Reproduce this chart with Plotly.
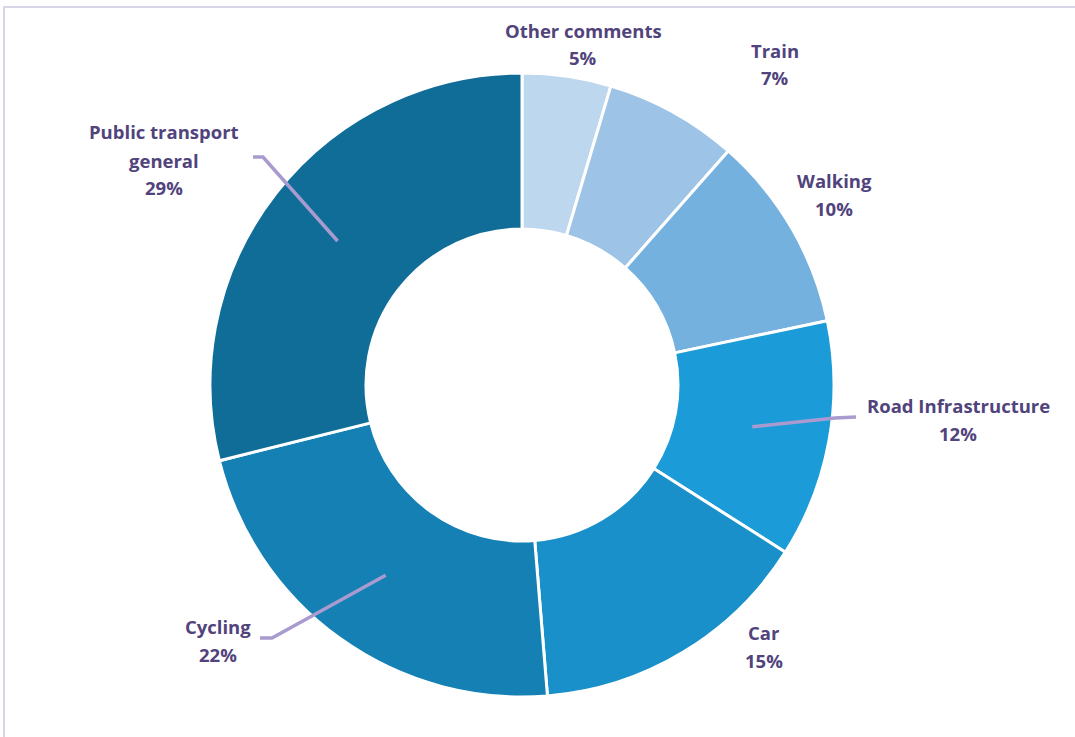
import math
import plotly.graph_objects as go

labels = ["Other comments", "Train", "Walking", "Road Infrastructure",
          "Car", "Cycling", "Public transport general"]
label_lines = [["Other comments"], ["Train"], ["Walking"], ["Road Infrastructure"],
               ["Car"], ["Cycling"], ["Public transport", "general"]]
values = [4.6, 6.9, 10.2, 12.3, 14.7, 22.4, 28.9]
colors = ["#BDD7EE", "#9DC3E6", "#75B1DF", "#1B9BD7", "#1990C9", "#1580B4", "#0F6D98"]

W, H = 1075, 737
CX, CY, R = 522, 385, 312   # pie centre / radius in px
HOLE = 0.5
LINE_H = 28

def px(x, y):
    return x / W, 1 - y / H

# centre of the first text line of each label (px)
label_pos = [(583, 30), (775, 50), (834, 180), (958, 405),
             (764, 632), (218, 626), (164, 132)]
# leader elbows for the labels that have one: (elbow point, end point)
leaders = {3: ((835, 418), (856, 417)),
           5: ((272, 638), (260, 638)),
           6: ((263, 157), (253, 157))}

x0, y1 = px(CX - R, CY - R)
x1, y0 = px(CX + R, CY + R)
fig = go.Figure(go.Pie(
    labels=labels, values=values, sort=False, direction="clockwise", rotation=0,
    hole=HOLE, textinfo="none", hoverinfo="label+percent",
    marker=dict(colors=colors, line=dict(color="white", width=3)),
    domain=dict(x=[x0, x1], y=[y0, y1]),
    showlegend=False,
))

font = dict(family="Open Sans", size=18.5, color="#51437C")
total = sum(values)
cum = 0
for i, v in enumerate(values):
    mid = (cum + v / 2) / total * 2 * math.pi
    cum += v
    lines = label_lines[i] + [f"{round(v / total * 100)}%"]
    bx, by = label_pos[i]
    for k, t in enumerate(lines):
        lx, ly = px(bx, by + k * LINE_H)
        fig.add_annotation(x=lx, y=ly, xref="paper", yref="paper", showarrow=False,
                           xanchor="center", yanchor="middle",
                           text=f"<b>{t}</b>", font=font)
    if i in leaders:
        rr = R * (1 + HOLE) / 2
        sx, sy = CX + rr * math.sin(mid), CY - rr * math.cos(mid)
        (ex, ey), (tx, ty) = leaders[i]
        pts = [px(sx, sy), px(ex, ey), px(tx, ty)]
        path = "M {} {} L {} {} L {} {}".format(*[c for p in pts for c in p])
        fig.add_shape(type="path", path=path, xref="paper", yref="paper",
                      line=dict(color="#A99BCF", width=3.5))

# frame of the original chart area
fig.add_shape(type="path", xref="paper", yref="paper",
              path="M {} {} L {} {} L {} {}".format(*px(4, H + 20), *px(4, 7), *px(W + 20, 7)),
              line=dict(color="#D9D5E8", width=2))

fig.update_layout(width=W, height=H, margin=dict(t=0, l=0, r=0, b=0),
                  paper_bgcolor="white", plot_bgcolor="white")
fig.write_html("out.html", config={"displayModeBar": False},
               post_script="document.body.style.margin='0';document.body.style.overflow='hidden';")
